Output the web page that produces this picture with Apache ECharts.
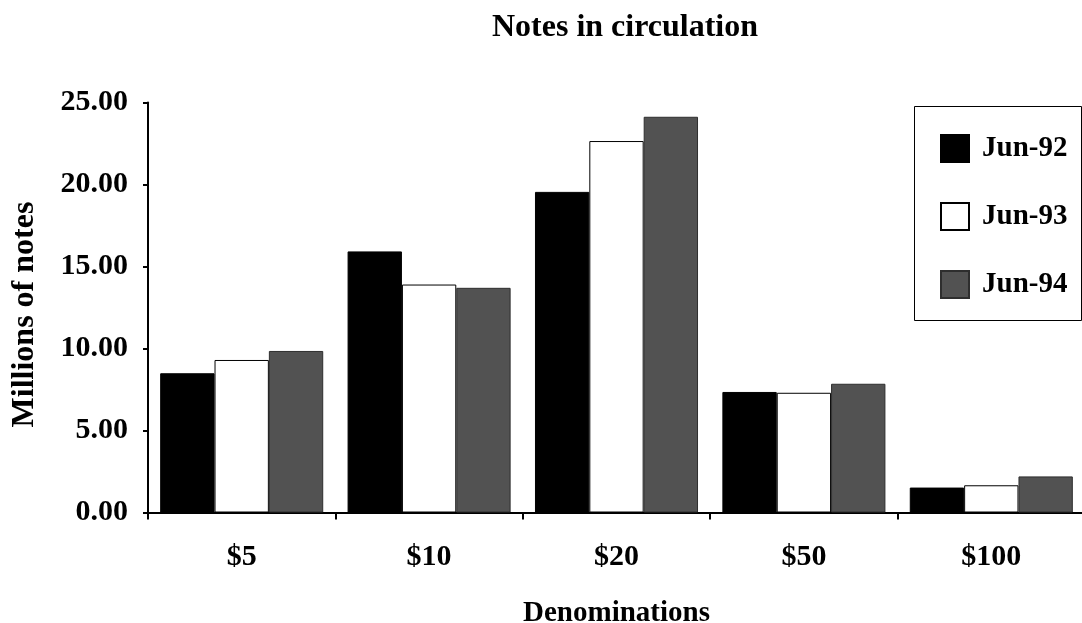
<!DOCTYPE html>
<html>
<head>
<meta charset="utf-8">
<script src="https://cdn.jsdelivr.net/npm/echarts@6/dist/echarts.min.js"></script>
<style>
html,body{margin:0;padding:0;background:#fff;}
#c{width:1082px;height:623px;}
</style>
</head>
<body>
<div id="c"></div>
<script>
const categories = ['$5', '$10', '$20', '$50', '$100'];
const seriesNames = ['Jun-92', 'Jun-93', 'Jun-94'];
const jun92 = [8.49, 15.92, 19.55, 7.35, 1.52];
const jun93 = [9.30, 13.90, 22.65, 7.30, 1.66];
const jun94 = [9.85, 13.70, 24.13, 7.85, 2.20];
const yTicks = [0, 5, 10, 15, 20, 25];

const FONT = '"Liberation Serif", "Times New Roman", serif';
const chart = echarts.init(document.getElementById('c'));

const styles = [
  {color: '#000000', borderColor: '#000000', borderWidth: 1},
  {color: '#ffffff', borderColor: '#000000', borderWidth: 1},
  {color: '#525252', borderColor: '#2e2e2e', borderWidth: 1}
];
const dataSets = [jun92, jun93, jun94];

chart.setOption({
  animation: false,
  backgroundColor: '#ffffff',
  title: {
    text: 'Notes in circulation',
    left: 620, top: 7, textAlign: 'center',
    textStyle: {fontFamily: FONT, fontWeight: 'bold', fontSize: 32, color: '#000'}
  },
  graphic: [{
    type: 'rect',
    shape: {x: 914.5, y: 106.5, width: 167, height: 214},
    style: {fill: '#ffffff', stroke: '#000', lineWidth: 1},
    z: 0
  }],
  legend: {
    orient: 'vertical',
    left: 935, top: 129,
    icon: 'rect',
    itemWidth: 28, itemHeight: 27,
    itemGap: 39,
    data: seriesNames,
    textStyle: {fontFamily: FONT, fontWeight: 'bold', fontSize: 29, lineHeight: 27, color: '#000', padding: [0, 0, 0, 8]},
    z: 5
  },
  grid: {left: 148, width: 937, top: 102.5, bottom: 110.5, containLabel: false, outerBoundsMode: 'none'},
  xAxis: {
    type: 'category',
    data: categories,
    name: 'Denominations',
    nameLocation: 'middle',
    nameGap: 87,
    nameTextStyle: {fontFamily: FONT, fontWeight: 'bold', fontSize: 29, color: '#000'},
    axisLine: {lineStyle: {color: '#000', width: 2}},
    axisTick: {show: true, length: 7, lineStyle: {color: '#000', width: 2}},
    axisLabel: {fontFamily: FONT, fontWeight: 'bold', fontSize: 30, color: '#000', margin: 30},
    splitLine: {show: false}
  },
  yAxis: {
    type: 'value',
    min: 0, max: 25, interval: 5,
    name: 'Millions of notes',
    nameLocation: 'middle',
    nameGap: 107,
    nameTextStyle: {fontFamily: FONT, fontWeight: 'bold', fontSize: 32, color: '#000', padding: [0, 14, 0, 0]},
    axisLine: {show: true, lineStyle: {color: '#000', width: 2}},
    axisTick: {show: true, inside: false, length: 5, lineStyle: {color: '#000', width: 2}},
    axisLabel: {
      fontFamily: FONT, fontWeight: 'bold', fontSize: 30, color: '#000', margin: 20,
      formatter: v => yTicks.includes(v) ? v.toFixed(2) : ''
    },
    splitLine: {show: false}
  },
  series: dataSets.map((d, i) => ({
    name: seriesNames[i],
    type: 'bar',
    data: d,
    barGap: '0%',
    barCategoryGap: '13%',
    itemStyle: styles[i]
  }))
});
</script>
</body>
</html>
